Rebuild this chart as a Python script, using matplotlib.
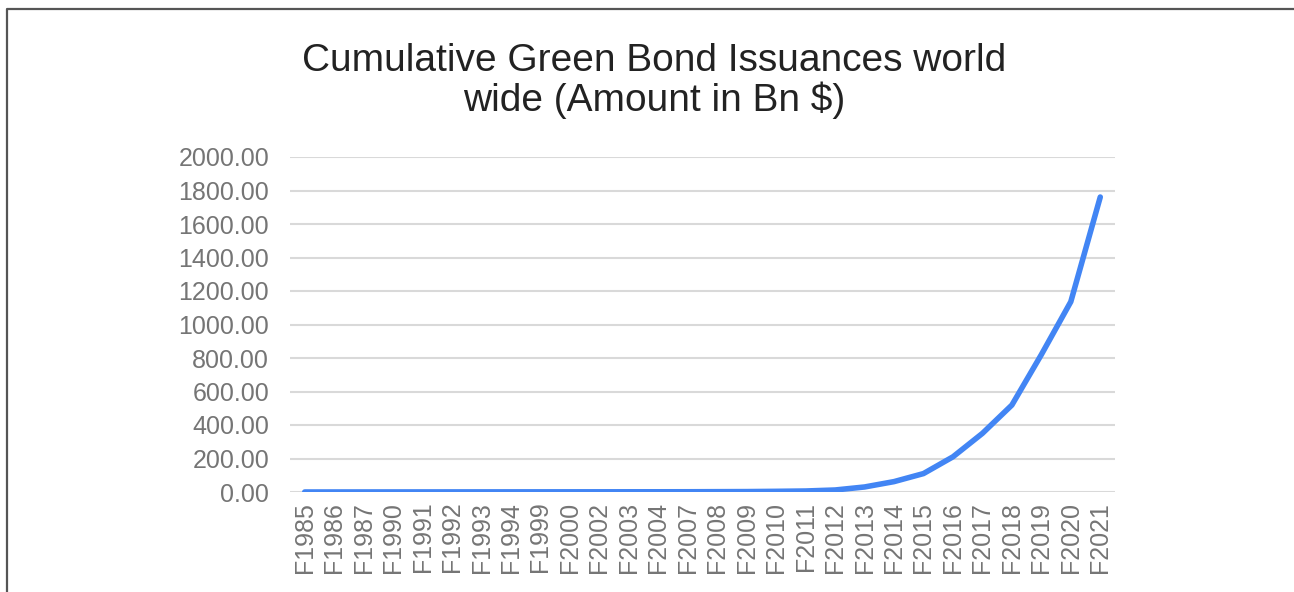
import matplotlib.pyplot as plt
from matplotlib.lines import Line2D

plt.rcParams['font.family'] = ['Liberation Sans', 'DejaVu Sans']

# fiscal years on the x axis
years = ['F1985', 'F1986', 'F1987', 'F1990', 'F1991', 'F1992', 'F1993', 'F1994',
         'F1999', 'F2000', 'F2002', 'F2003', 'F2004', 'F2007', 'F2008', 'F2009',
         'F2010', 'F2011', 'F2012', 'F2013', 'F2014', 'F2015', 'F2016', 'F2017',
         'F2018', 'F2019', 'F2020', 'F2021']
# cumulative issuance, Bn $
amounts = [0.1, 0.2, 0.3, 0.4, 0.5, 0.6, 0.7, 0.8,
           0.9, 1.0, 1.1, 1.2, 1.3, 1.5, 2.0, 2.5,
           4.0, 6.0, 12.0, 30.0, 62.0, 110.0, 210.0, 350.0,
           519.0, 820.0, 1136.0, 1761.0]
y_ticks = [0, 200, 400, 600, 800, 1000, 1200, 1400, 1600, 1800, 2000]

fig = plt.figure(figsize=(12.94, 5.92), dpi=100)
ax = fig.add_axes([290 / 1294, 1 - 492 / 592, 825 / 1294, 335 / 592])

x = list(range(len(years)))
ax.plot(x, amounts, color='#4285f4', linewidth=4, solid_capstyle='round', zorder=3)

ax.set_xlim(-0.5, len(years) - 0.5)
ax.set_ylim(0, 2000)
ax.set_yticks(y_ticks)
ax.set_yticklabels(['%.2f' % v for v in y_ticks])
ax.set_xticks(x)
ax.set_xticklabels(years, rotation=90)
ax.tick_params(axis='both', length=0, colors='#757575', labelsize=18)
ax.tick_params(axis='y', pad=15)
ax.tick_params(axis='x', pad=7)
ax.grid(axis='y', color='#d9d9d9', linewidth=1.5)
ax.set_axisbelow(True)
for s in ax.spines.values():
    s.set_visible(False)

fig.text(654 / 1294, 1 - 81 / 592, 'Cumulative Green Bond Issuances world\nwide (Amount in Bn $)',
         ha='center', va='center', fontsize=28, color='#222222', linespacing=1.1)

# screenshot frame
fig.add_artist(Line2D([7 / 1294, 7 / 1294, 1.0], [0.0, 1 - 9 / 592, 1 - 9 / 592],
                      transform=fig.transFigure, color='#555555', linewidth=1.6))

fig.savefig('out.png', dpi=100, facecolor='white')
